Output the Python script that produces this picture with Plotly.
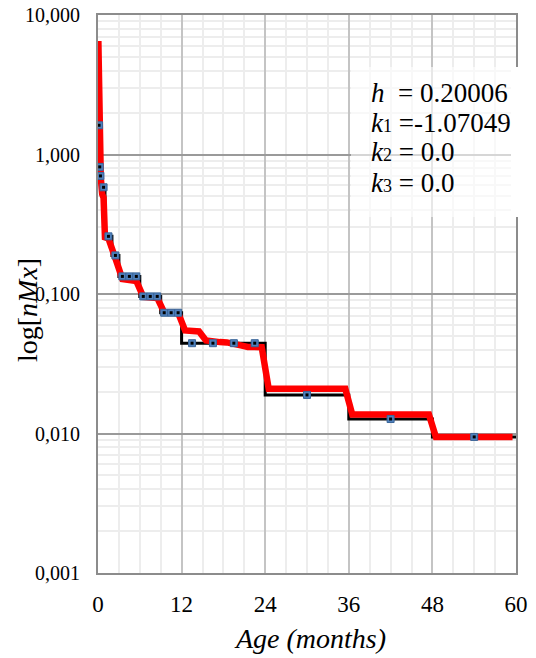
import plotly.graph_objects as go

# ---- Observed mortality rates nMx (step function over age intervals, months)
obs_edges = [0, 0.2, 0.3, 0.5, 1, 2, 3, 6, 9, 12, 24, 36, 48, 60]
obs_rates = [1.62, 0.815, 0.702, 0.582, 0.259, 0.189, 0.1337, 0.0961,
             0.0734, 0.0444, 0.0189, 0.0127, 0.00945]

# ---- Observed points (square markers)
pt_age = [0.15, 0.25, 0.35, 0.8, 1.5, 2.5, 3.5, 4.5, 5.5, 6.5, 7.5, 8.5,
          9.5, 10.5, 11.5, 13.5, 16.5, 19.5, 22.5, 30, 42, 54]
pt_rate = [1.62, 0.815, 0.702, 0.582, 0.259, 0.189, 0.1337, 0.1337, 0.1337,
           0.0961, 0.0961, 0.0961, 0.0734, 0.0734, 0.0734,
           0.0444, 0.0444, 0.0444, 0.0444, 0.0189, 0.0127, 0.00945]

# ---- Fitted curve
fit_age = [0.05, 0.2, 0.3, 0.4, 0.6, 0.8, 1.0, 1.5, 2.5, 3.5, 4.5, 5.5,
           6.5, 7.5, 8.5, 9.5, 10.5, 11.5, 12.5, 13.5, 14.5, 15.5, 16.5,
           17.5, 18.5, 19.5, 20.5, 21.5, 22.5, 23.5, 24.5, 35.5, 36.5,
           47.5, 48.5, 59.5]
fit_rate = [6.5, 1.62, 0.80, 0.68, 0.52, 0.49, 0.255, 0.25, 0.18, 0.128,
            0.126, 0.124, 0.0953, 0.0945, 0.0937, 0.0738, 0.0735, 0.0732,
            0.0548, 0.0548, 0.0539, 0.0464, 0.0452, 0.0452, 0.0450, 0.0443,
            0.0428, 0.0417, 0.0416, 0.0416, 0.0209, 0.0209, 0.01367,
            0.01367, 0.00945, 0.00945]

# ---- Axis ticks
x_ticks = [0, 12, 24, 36, 48, 60]
y_ticks = [10, 1, 0.1, 0.01, 0.001]
y_tick_text = ["10,000", "1,000", "0,100", "0,010", "0,001"]

# ---- Parameter box text (small index digits sit on the baseline)
SMALL = '<span style="font-size:18px">{}</span>'
param_lines = [
    "<i>h</i>\u00a0\u00a0= 0.20006",
    "<i>k</i>" + SMALL.format("1") + " =-1.07049",
    "<i>k</i>" + SMALL.format("2") + " = 0.0",
    "<i>k</i>" + SMALL.format("3") + " = 0.0",
]

FONT = "Liberation Serif"

fig = go.Figure()

fig.add_trace(go.Scatter(
    x=obs_edges, y=obs_rates + [obs_rates[-1]], mode="lines",
    line=dict(color="#000000", width=3, shape="hv"), showlegend=False))

fig.add_trace(go.Scatter(
    x=fit_age, y=fit_rate, mode="lines",
    line=dict(color="#ff0000", width=6.5), showlegend=False))

fig.add_trace(go.Scatter(
    x=pt_age, y=pt_rate, mode="markers",
    marker=dict(symbol="square", size=7, color="#4f81bd",
                line=dict(color="#3a6699", width=1)),
    showlegend=False))

fig.add_trace(go.Scatter(
    x=pt_age, y=pt_rate, mode="markers",
    marker=dict(symbol="square", size=3, color="#000000",
                line=dict(width=0)),
    showlegend=False))

# plot area geometry (pixels) for paper placement of texts
L, R, T, B = 98, 20, 15, 85
W, H = 536, 658
pw, ph = W - L - R, H - T - B


def px(xp):
    return (xp - L) / pw


def py(yp):
    return (H - B - yp) / ph


fig.update_layout(
    width=W, height=H,
    margin=dict(l=L, r=R, t=T, b=B, pad=0, autoexpand=False),
    plot_bgcolor="white", paper_bgcolor="white",
    font=dict(family=FONT, color="#000000"),
    xaxis=dict(
        range=[0, 60], tickmode="array", tickvals=x_ticks,
        ticktext=[str(v) for v in x_ticks],
        tickfont=dict(family=FONT, size=23, color="#000000"),
        ticks="outside", ticklen=9, tickcolor="rgba(0,0,0,0)",
        showgrid=True, gridcolor="#c4c4c4", gridwidth=1.5,
        minor=dict(dtick=3, showgrid=True, gridcolor="#ededed",
                   gridwidth=1.5, ticks=""),
        showline=True, mirror=True, linecolor="#8c8c8c", linewidth=2,
        zeroline=False, automargin=False,
    ),
    yaxis=dict(
        type="log", range=[-3, 1], tickmode="array", tickvals=y_ticks,
        ticktext=y_tick_text,
        tickfont=dict(family=FONT, size=20, color="#000000"),
        ticks="outside", ticklen=12, tickcolor="rgba(0,0,0,0)",
        showgrid=True, gridcolor="#9a9a9a", gridwidth=1.5,
        minor=dict(tickmode="array",
                   tickvals=[m * 10.0 ** e for e in range(-3, 1)
                             for m in range(2, 10)],
                   showgrid=True, gridcolor="#ededed", gridwidth=1.5,
                   ticks=""),
        showline=True, mirror=True, linecolor="#8c8c8c", linewidth=2,
        zeroline=False, automargin=False,
    ),
)

# parameter box (semi-transparent white panel)
fig.add_shape(type="rect", xref="paper", yref="paper",
              x0=px(351), x1=px(522), y0=py(217), y1=py(67),
              fillcolor="rgba(255,255,255,0.6)", line=dict(width=0),
              layer="above")
fig.add_shape(type="rect", xref="paper", yref="paper",
              x0=px(511), x1=px(522), y0=py(217), y1=py(67),
              fillcolor="white", line=dict(width=0), layer="above")

for txt, yc in zip(param_lines, [93.3, 122.5, 152, 183]):
    fig.add_annotation(text=txt, xref="paper", yref="paper",
                       x=px(369), y=py(yc), xanchor="left", yanchor="middle",
                       showarrow=False,
                       font=dict(family=FONT, size=27, color="#000000"))

# axis titles
fig.add_annotation(text="<i>Age (months)</i>", xref="paper", yref="paper",
                   x=px(310), y=py(638), xanchor="center", yanchor="middle",
                   showarrow=False,
                   font=dict(family=FONT, size=28, color="#000000"))
fig.add_annotation(text="log[<i>nMx</i>]", xref="paper", yref="paper",
                   x=px(27), y=py(310), xanchor="center", yanchor="middle",
                   textangle=-90, showarrow=False,
                   font=dict(family=FONT, size=28, color="#000000"))

fig.write_html("out.html")
